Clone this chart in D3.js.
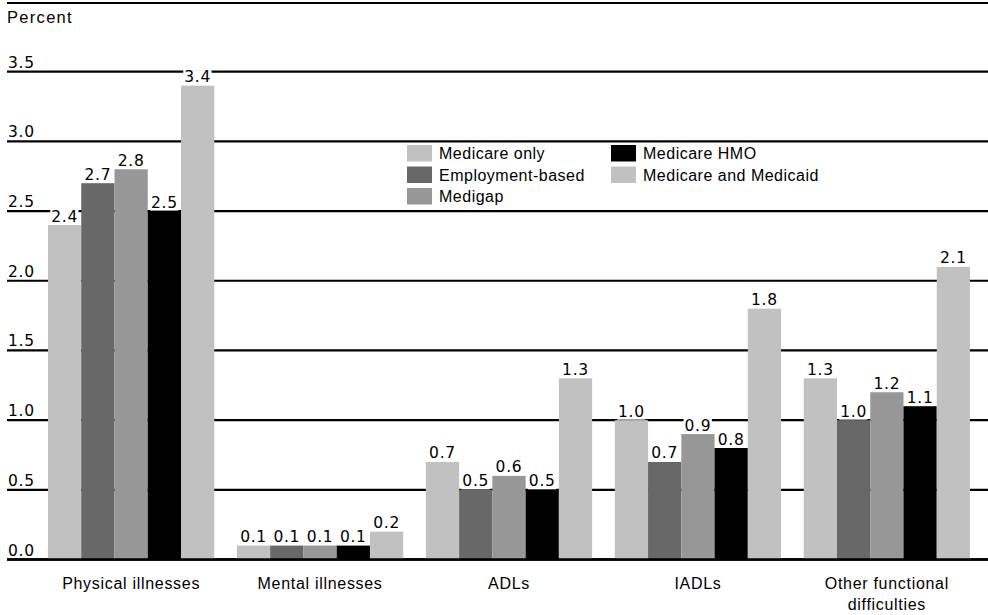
<!DOCTYPE html>
<html>
<head>
<meta charset="utf-8">
<script src="https://cdn.jsdelivr.net/npm/d3@7/dist/d3.min.js"></script>
<style>
  html, body { margin: 0; padding: 0; background: #fff; }
  svg { display: block; }
</style>
</head>
<body>
<svg id="chart" width="988" height="615"></svg>
<script>
// Categories along the x axis (multi-line labels split on "\n")
const categories = ["Physical illnesses", "Mental illnesses", "ADLs", "IADLs", "Other functional\ndifficulties"];

// Insurance groups (series)
const seriesNames = ["Medicare only", "Employment-based", "Medigap", "Medicare HMO", "Medicare and Medicaid"];
const seriesColors = ["#c1c1c1", "#686868", "#979797", "#000000", "#c1c1c1"];

// Percent values per series, one per category
const medicareOnly      = [2.4, 0.1, 0.7, 1.0, 1.3];
const employmentBased   = [2.7, 0.1, 0.5, 0.7, 1.0];
const medigap           = [2.8, 0.1, 0.6, 0.9, 1.2];
const medicareHMO       = [2.5, 0.1, 0.5, 0.8, 1.1];
const medicareMedicaid  = [3.4, 0.2, 1.3, 1.8, 2.1];
const seriesValues = [medicareOnly, employmentBased, medigap, medicareHMO, medicareMedicaid];

// Y axis ticks
const yTicks = [0, 0.5, 1.0, 1.5, 2.0, 2.5, 3.0, 3.5];

const svg = d3.select("#chart");
const numFont = "'DejaVu Sans', Verdana, sans-serif";
const txtFont = "'Liberation Sans', Arial, sans-serif";

const gridLeft = 7, gridRight = 988;

const x0 = d3.scaleBand().domain(categories).range([48, 970]).paddingInner(0.12).paddingOuter(0);
const x1 = d3.scaleBand().domain(seriesNames).range([0, x0.bandwidth()]).padding(0);
const y = d3.scaleLinear().domain([0, 3.5]).range([559.5, 71.7]);

// Top rule
svg.append("line")
  .attr("x1", gridLeft).attr("x2", gridRight)
  .attr("y1", 3).attr("y2", 3)
  .attr("stroke", "#000").attr("stroke-width", 2.2);

// Axis title
svg.append("text")
  .attr("x", 7).attr("y", 23)
  .attr("font-family", txtFont).attr("font-size", 16.5)
  .attr("letter-spacing", 1.3)
  .attr("fill", "#000")
  .text("Percent");

// Gridlines and tick labels
const grid = svg.append("g");
grid.selectAll("line").data(yTicks).join("line")
  .attr("x1", gridLeft).attr("x2", gridRight)
  .attr("y1", d => y(d)).attr("y2", d => y(d))
  .attr("stroke", "#000")
  .attr("stroke-width", d => d === 0 ? 2.6 : 2.2);

grid.selectAll("text").data(yTicks).join("text")
  .attr("x", 8).attr("y", d => y(d) - 4)
  .attr("font-family", numFont).attr("font-size", 15.5)
  .attr("letter-spacing", 0.7)
  .attr("fill", "#000")
  .text(d => d3.format(".1f")(d));

// Bars
const rows = [];
categories.forEach((c, ci) => {
  seriesNames.forEach((s, si) => {
    rows.push({ category: c, series: s, si, value: seriesValues[si][ci] });
  });
});

const barLayer = svg.append("g");
barLayer.selectAll("rect").data(rows).join("rect")
  .attr("x", d => x0(d.category) + x1(d.series))
  .attr("y", d => y(d.value))
  .attr("width", x1.bandwidth())
  .attr("height", d => y(0) - y(d.value))
  .attr("fill", d => seriesColors[d.si]);

// Baseline drawn over bar bottoms
svg.append("line")
  .attr("x1", gridLeft).attr("x2", gridRight)
  .attr("y1", y(0)).attr("y2", y(0))
  .attr("stroke", "#000").attr("stroke-width", 2.6);

// Value labels with white backing
const labelLayer = svg.append("g");
const labels = labelLayer.selectAll("g").data(rows).join("g");
labels.append("rect").attr("fill", "#fff");
labels.append("text")
  .attr("x", d => x0(d.category) + x1(d.series) + x1.bandwidth() / 2)
  .attr("y", d => y(d.value) - 3.5)
  .attr("text-anchor", "middle")
  .attr("font-family", numFont).attr("font-size", 15.5)
  .attr("letter-spacing", 0.7)
  .attr("fill", "#000")
  .text(d => d3.format(".1f")(d.value));
labels.each(function() {
  const g = d3.select(this);
  const bb = g.select("text").node().getBBox();
  g.select("rect")
    .attr("x", bb.x - 1).attr("y", bb.y + 2)
    .attr("width", bb.width + 1.5).attr("height", bb.height - 3);
});

// Category labels
const xLabels = svg.append("g");
categories.forEach(c => {
  const t = xLabels.append("text")
    .attr("text-anchor", "middle")
    .attr("font-family", txtFont).attr("font-size", 16)
    .attr("letter-spacing", 0.7)
    .attr("fill", "#000");
  c.split("\n").forEach((line, i) => {
    t.append("tspan")
      .attr("x", x0(c) + x0.bandwidth() / 2)
      .attr("y", 589 + i * 21)
      .text(line);
  });
});

// Legend
const legendItems = [
  { name: seriesNames[0], col: 0, row: 0, si: 0 },
  { name: seriesNames[1], col: 0, row: 1, si: 1 },
  { name: seriesNames[2], col: 0, row: 2, si: 2 },
  { name: seriesNames[3], col: 1, row: 0, si: 3 },
  { name: seriesNames[4], col: 1, row: 1, si: 4 }
];
const legend = svg.append("g");
legend.append("rect")
  .attr("x", 400).attr("y", 143).attr("width", 450).attr("height", 64)
  .attr("fill", "#fff");
const colX = [407, 611];
const li = legend.selectAll("g.item").data(legendItems).join("g")
  .attr("class", "item")
  .attr("transform", d => `translate(${colX[d.col]},${145 + d.row * 21.5})`);
li.append("rect")
  .attr("width", 25).attr("height", 16.5)
  .attr("fill", d => seriesColors[d.si]);
li.append("text")
  .attr("x", 32).attr("y", 14)
  .attr("font-family", txtFont).attr("font-size", 16)
  .attr("letter-spacing", 0.5)
  .attr("fill", "#000")
  .text(d => d.name);
</script>
</body>
</html>
